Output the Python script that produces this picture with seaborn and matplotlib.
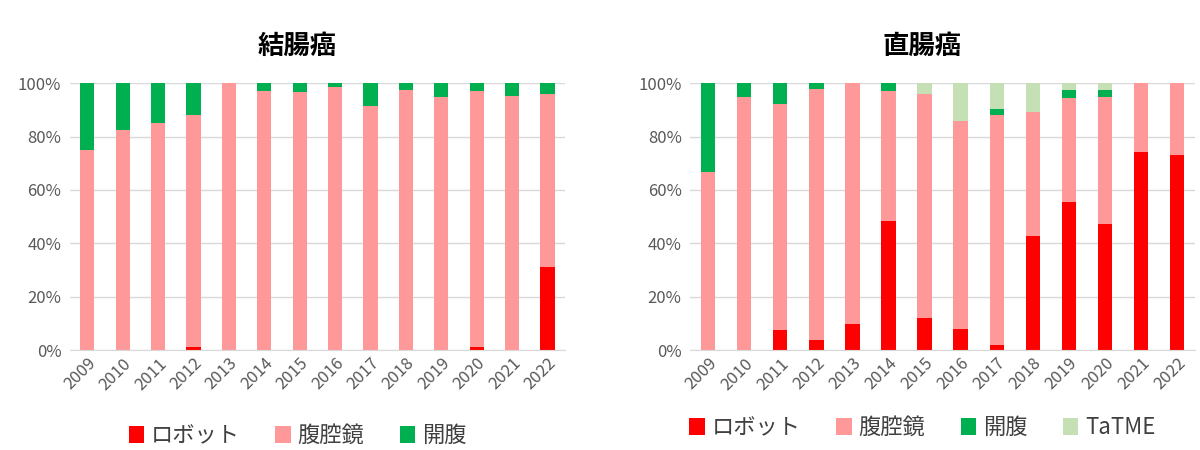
import matplotlib
matplotlib.use("Agg")
import matplotlib.pyplot as plt
import seaborn as sns
from matplotlib.ticker import FuncFormatter

years = [str(y) for y in range(2009, 2023)]

# 結腸癌 (%)
colon_robot = [0, 0, 0, 1.0, 0, 0, 0, 0, 0, 0, 0, 1.1, 0, 31.0]
colon_lap = [75.0, 82.3, 85.0, 87.0, 100.0, 97.1, 96.7, 98.5, 91.6, 97.6, 94.9, 96.1, 95.1, 65.1]
colon_open = [25.0, 17.7, 15.0, 12.0, 0, 2.9, 3.3, 1.5, 8.4, 2.4, 5.1, 2.8, 4.9, 3.9]

# 直腸癌 (%)
rectal_robot = [0, 0, 7.5, 3.9, 9.6, 48.4, 12.2, 8.0, 2.0, 42.6, 55.4, 47.2, 74.2, 73.1]
rectal_lap = [66.7, 94.9, 84.9, 94.0, 90.4, 48.7, 83.8, 78.0, 86.0, 46.7, 39.1, 47.7, 25.8, 26.9]
rectal_open = [33.3, 5.1, 7.6, 2.1, 0, 2.9, 0, 0, 2.4, 0, 2.9, 2.5, 0, 0]
rectal_tatme = [0, 0, 0, 0, 0, 0, 4.0, 14.0, 9.6, 10.7, 2.6, 2.6, 0, 0]

labels = ["ロボット", "腹腔鏡", "開腹", "TaTME"]
colors = ["#FF0000", "#FF9999", "#00B050", "#C5E0B4"]

sns.set_style("white")
plt.rcParams["font.family"] = ["Noto Sans CJK JP", "DejaVu Sans"]

fig = plt.figure(figsize=(12, 4.5), dpi=100)
ax1 = fig.add_axes([0.058, 0.222, 0.413, 0.593])
ax2 = fig.add_axes([0.575, 0.222, 0.421, 0.593])


def draw(ax, title, series, legend_y):
    bottom = [0] * len(years)
    for i, vals in enumerate(series):
        sns.barplot(x=years, y=vals, bottom=bottom, color=colors[i], width=0.4,
                    label=labels[i], errorbar=None, linewidth=0, saturation=1, ax=ax)
        bottom = [b + v for b, v in zip(bottom, vals)]
    ax.set_ylim(0, 100)
    ax.set_xlim(-0.5, len(years) - 0.5)
    ax.set_yticks(range(0, 101, 20))
    ax.yaxis.set_major_formatter(FuncFormatter(lambda v, p: f"{int(v)}%"))
    ax.grid(axis="y", color="#D9D9D9", linewidth=1)
    ax.set_axisbelow(True)
    for s in ["top", "left", "right"]:
        ax.spines[s].set_visible(False)
    ax.spines["bottom"].set_color("#D9D9D9")
    ax.tick_params(length=0, colors="#595959", labelsize=12)
    ax.tick_params(axis="y", pad=6)
    plt.setp(ax.get_xticklabels(), rotation=45, ha="right", rotation_mode="anchor")
    ax.set_xlabel("")
    ax.set_ylabel("")
    ax.text(0.46, 1.14, title, transform=ax.transAxes, ha="center", va="center",
            fontsize=19, fontweight="bold", color="#000000")
    ax.legend(loc="center", bbox_to_anchor=(0.46, legend_y), ncol=len(series),
              frameon=False, handlelength=0.7, handleheight=0.8, handletextpad=0.3,
              columnspacing=1.6, prop={"size": 16}, labelcolor="#404040")


draw(ax1, "結腸癌", [colon_robot, colon_lap, colon_open], -0.32)
draw(ax2, "直腸癌", [rectal_robot, rectal_lap, rectal_open, rectal_tatme], -0.29)

fig.savefig("out.png", dpi=100)
